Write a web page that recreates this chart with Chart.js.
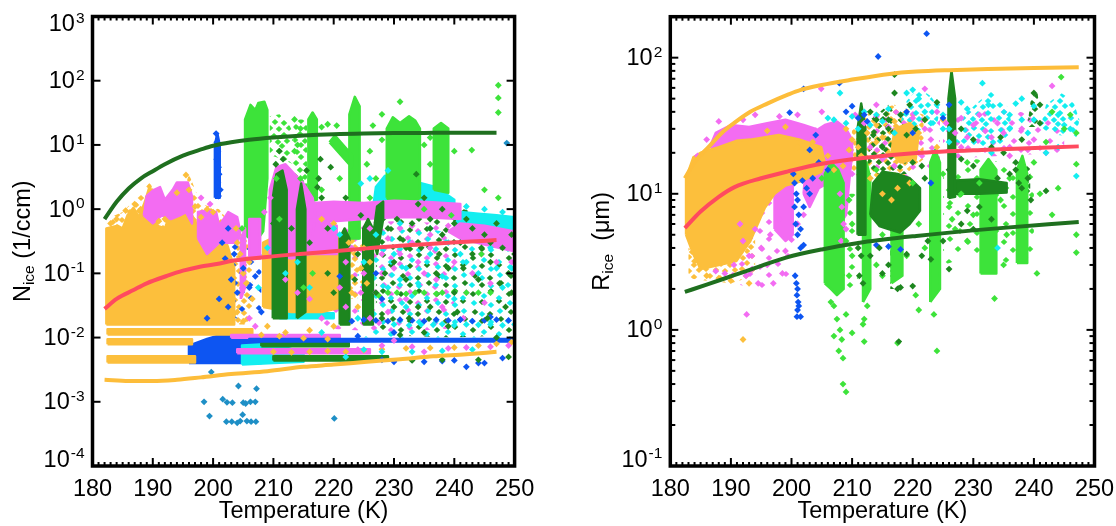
<!DOCTYPE html>
<html><head><meta charset="utf-8">
<script src="https://cdn.jsdelivr.net/npm/chart.js@4/dist/chart.umd.min.js"></script>
<style>
html,body{margin:0;padding:0;background:#fff;}
#wrap{position:relative;width:1116px;height:526px;overflow:hidden;background:#fff;}
#wrap canvas{position:absolute;top:0;}
</style></head><body>
<div id="wrap"><canvas id="cN" width="558" height="526" style="left:0"></canvas><canvas id="cR" width="558" height="526" style="left:558px"></canvas></div>
<script>
// ---------- axis text ----------
const tempTicks = [180,190,200,210,220,230,240,250];
const nExponents = [-4,-3,-2,-1,0,1,2,3];
const rExponents = [-1,0,1,2];
const nAxisTitle = ['N','ice',' (1/ccm)'];
const rAxisTitle = ['R','ice','  (\u03bcm)'];
const xAxisTitle = 'Temperature (K)';

// ---------- LEFT PANEL: N_ice ----------
const nCurveGreenT = [182,184,186,188,190,192,195,198,200,203,206,210,215,220,225,230,235,240,247];
const nCurveGreen  = [0.7,1.3,2.1,3.0,3.9,5.0,6.8,8.5,9.7,11.0,12.0,13.0,14.0,14.7,15.1,15.3,15.4,15.5,15.5];
const nCurveRedT = [182,184,186.8,189,192.3,195,197.8,200.6,203.4,208.9,214.4,220,225.5,231,236.5,242,247];
const nCurveRed  = [0.028,0.04,0.055,0.07,0.091,0.11,0.127,0.14,0.158,0.18,0.2,0.22,0.245,0.27,0.29,0.31,0.33];
const nCurveOrangeT = [182,186,190,194,198,203,209,215,220,225.5,231,236.5,242,247];
const nCurveOrange  = [0.0022,0.0021,0.0021,0.0022,0.0024,0.0027,0.003,0.0035,0.0038,0.0042,0.0046,0.0051,0.0055,0.006];

// scattered regions (drawn speckled)
const nDarkGreenSparse = [
 [[227,0.011],[227,0.8],[233,1.2],[236,1.6],[240,1.1],[245,0.8],[250,0.6],[250,0.011],[240,0.01]]
];
const nPinkSparse = [
 [[218,0.014],[218,0.6],[230,0.65],[240,0.6],[240,0.014],[230,0.012]]
];
const nCyanSparse = [
 [[224,0.01],[224,0.45],[235,0.5],[250,0.3],[250,0.01],[235,0.01]]
];
const nOrangeSparse = [
 [[203.5,0.016],[203.5,0.5],[206.5,0.4],[206.5,0.016]],
 [[221.5,0.04],[221.5,0.45],[224,0.35],[226.5,0.3],[226.5,0.04]],
 [[182.3,0.45],[182.3,0.7],[185,0.9],[187,1.4],[189.5,2.6],[192,1.0],[195,1.8],[196,3.5],[198,1.2],[201,1.0],[203.5,0.5]]
];
const nLightGreenSparse = [
 [[209.4,7],[209.4,28],[211,30],[212.5,22],[213.3,15],[213.3,5],[211.5,6]],
 [[213.3,1],[213.3,25],[215.6,25],[215.6,1]]
];
const nBlueSparse = [
 [[198,0.02],[198,0.2],[203,0.4],[208,0.2],[208,0.02]]
];
// dense regions
const nBlueAreas = [
 [[196,0.0040],[196,0.0075],[199,0.0095],[202,0.0115],[205,0.0115],[207.5,0.0105],[208.5,0.007],[208,0.004]],
 [[200.3,1.5],[200.3,10],[200.7,15],[201.1,10],[201.1,1.5]]
];
const nCyanAreas = [
 [[226.5,1.0],[227,2.2],[228.5,3.3],[231,3.0],[234,2.6],[237,2.2],[240,1.4],[240,0.9],[236,1.1],[232,1.0],[228,0.8]],
 [[240,0.5],[241,0.9],[244,0.85],[247,0.8],[250,0.75],[250,0.3],[247,0.35],[244,0.4],[241,0.35]],
 [[204.8,0.0038],[204.8,0.0075],[210,0.008],[215,0.0058],[215,0.0042],[210,0.004]],
 [[211,0.020],[211,0.024],[220,0.024],[220,0.020]]
];
const nLightGreenAreas = [
 [[205.3,0.4],[205.3,25],[206.2,42],[207,35],[207.5,45],[208.5,47],[209,35],[209,3],[208.3,0.45],[207,0.3]],
 [[215.8,1.3],[215.8,25],[216.5,32],[217.2,25],[217.2,1.4]],
 [[219.3,11],[220.2,14],[223,7],[223,4.5]],
 [[222.6,0.35],[222.6,30],[223.5,56],[224.3,40],[224.3,0.35]],
 [[228.8,1.5],[228.8,18],[229.8,27],[231,22],[232.5,28],[233.5,24],[234.3,18],[234.3,1.5],[231,1.0]],
 [[236.6,2],[236.6,18],[237.8,22],[239,18],[239,1.8]]
];
const nOrangeAreas = [
 [[182.3,0.016],[182.3,0.5],[184.2,0.55],[185,0.5],[185.8,0.8],[186.8,1.05],[187.7,0.75],[188.7,1.3],[189.5,2.3],[190.3,1.2],[190.8,0.55],[192,0.5],[193,0.9],[194.5,1.0],[195.5,1.4],[196.5,0.8],[197.5,0.55],[199,0.7],[200.5,0.75],[201.5,0.45],[202.5,0.25],[203.5,0.12],[203.5,0.016]],
 [[208.3,0.03],[208.3,0.3],[211,0.4],[214,0.35],[217,0.45],[219.5,0.5],[221.5,0.35],[221.5,0.03],[218,0.025],[213,0.025]],
 [[182.5,0.0112],[182.5,0.0135],[206.5,0.0135],[206.5,0.0112]],
 [[182.5,0.0079],[182.5,0.0094],[196.5,0.0094],[196.5,0.0079]],
 [[182.5,0.0041],[182.5,0.0051],[197,0.0051],[197,0.0041]]
];
const nPinkAreas = [
 [[188.5,0.8],[189,1.6],[190.2,2.0],[191.2,2.2],[192,1.4],[193.3,2.0],[194,2.6],[195.8,2.6],[196.5,1.6],[196.5,0.6],[195.5,0.9],[194.5,0.8],[193,0.7],[191.5,0.8],[190,0.6]],
 [[197.5,0.35],[197.5,0.9],[199,0.95],[200.5,0.9],[201,0.55],[202.5,0.9],[204,0.75],[204.5,0.45],[204,0.3],[201,0.3],[199,0.2]],
 [[204.6,0.04],[204.6,0.35],[205.3,0.5],[205.3,0.06]],
 [[206,0.17],[206,0.7],[207.8,0.7],[207.8,0.17]],
 [[209.4,0.2],[209.4,2],[210.5,4.5],[212,5],[213.5,3.5],[215,2.5],[216.5,1.5],[217,0.8],[216,0.2],[213,0.17]],
 [[214.5,0.2],[214.5,0.65],[218,0.65],[220.5,0.55],[220.5,0.2]],
 [[214,0.7],[214,1.2],[220,1.3],[225,1.25],[230,1.35],[235,1.3],[241,1.2],[241,0.7],[235,0.75],[230,0.75],[225,0.7],[220,0.65]],
 [[239,0.45],[241,0.6],[245,0.55],[250,0.45],[250,0.22],[245,0.28],[241,0.35]],
 [[203,0.0099],[203,0.0110],[221,0.0110],[221,0.0099]],
 [[204,0.0057],[204,0.0066],[226,0.0066],[226,0.0057]]
];
const nDarkGreenAreas = [
 [[209.9,0.02],[209.9,1.5],[210.5,3.5],[211.5,4],[212.2,2],[212.2,0.02]],
 [[213.9,0.02],[213.9,1.0],[214.6,2.5],[215.3,1.0],[215.3,0.025]],
 [[221,0.016],[221,0.35],[221.8,0.5],[222.6,0.35],[222.6,0.016]],
 [[224.9,0.016],[224.9,0.5],[225.7,0.7],[226.5,0.5],[226.5,0.016]],
 [[226.5,0.35],[227.2,1.1],[228.2,1.3],[228.2,0.7],[227.2,0.2]],
 [[208,0.0073],[208,0.0082],[222.5,0.0082],[222.5,0.0073]],
 [[210,0.0044],[210,0.0051],[229,0.0051],[229,0.0044]]
];
const nBlueBands = [
 [[206,0.0087],[206,0.0095],[250,0.0095],[250,0.0087]]
];
const nOrangeDots = [[195.5,3.4],[201.5,0.2],[202,0.1],[202.5,0.06],[203,0.04],[204,0.3],[204.5,0.2],[205,0.1],[205.5,0.07],[206,0.15],[206.5,0.04],[204,0.025],[205,0.018],[203.8,0.5],[222.5,0.3],[223.5,0.2],[224.5,0.12],[225,0.25],[225.5,0.07],[226,0.15],[223,0.05],[224,0.03],[218,0.7],[220,0.6],[210,0.006],[213,0.0059],[216,0.006],[219,0.0062],[222,0.006],[225,0.0063],[228,0.0066],[232,0.0068],[236,0.0069],[240,0.007],[244,0.0075],[247,0.008],[249.5,0.0085],[215,0.0098],[219,0.0095],[208,0.011],[211,0.0105],[192,0.7],[194,1.8],[196,2.0],[197,1.1],[199,1.0],[209,0.015],[212,0.012],[216,0.013],[220,0.015],[183,0.6],[184,0.7],[185.5,0.95],[187,1.2],[188,1.0],[191,0.65],[198,0.75],[200,0.9]];
const nPinkDots = [[220,0.3],[222,0.15],[223,0.25],[225,0.1],[227,0.05],[228,0.2],[229,0.35],[230,0.12],[231,0.2],[232,0.04],[233,0.3],[234,0.15],[236,0.25],[237,0.08],[238,0.03],[240,0.15],[241.5,0.02],[243,0.1],[244.5,0.2],[246,0.07],[248,0.3],[249.5,0.15],[230,0.009],[235,0.006],[227.5,0.017],[224,0.0065],[228,0.0075],[233,0.0072],[239,0.0068],[242,0.007],[246,0.0072],[249,0.0075],[198,1.5],[199.5,1.2],[206,0.02],[207,0.015],[208.5,0.9],[209.5,1.5],[212,0.08],[214,0.05],[216,0.04],[231,0.5],[236,0.4],[226,0.02],[222,0.03],[218,0.02],[226,0.5],[233,0.55],[239,0.55],[228,0.1],[235,0.1],[242,0.05],[247,0.15],[224.5,0.05],[221,0.06],[229,0.025],[245,0.035]];
const nCyanDots = [[209,0.25],[207.5,0.06],[212,0.1],[220,0.5],[221,0.4],[225,0.15],[229,0.06],[230,0.2],[232,0.12],[234,0.07],[236,0.2],[238,0.09],[239,0.3],[242,0.15],[244,0.1],[246,0.25],[248,0.06],[249.5,0.12],[224,0.02],[218,0.012],[232,0.03],[240,0.04],[236,0.5],[222,0.005],[225,0.0065],[233,0.006],[238,0.0062],[228,0.006],[243,0.0065],[226,3],[229,4],[224.5,2.5],[242,1.1],[245,1.0],[248,0.9],[250,0.6],[231,0.6],[214,0.15],[216,0.06],[230,0.016],[232.5,0.0155],[234.5,0.016],[236.5,0.0158],[238,0.0162],[240,0.0155],[242,0.016],[244,0.0158],[246,0.016],[248,0.0155],[250,0.016],[231,0.08],[241,0.2],[247,0.12],[227,0.4]];
const nLightGreenDots = [[247.3,85],[247.3,54],[247.3,32],[247.3,1.5],[231,47],[242.9,8.3],[213.5,25],[214.5,18],[214,10],[218,19],[219,21],[220.5,20],[226.5,20],[228,12],[235,10],[240,8],[236,5],[245,2],[226,8],[227,3],[213.5,8],[214.5,3],[244,0.05],[240,0.052],[235,0.05],[232,0.048],[229,0.05],[246,0.05],[238,0.05],[227.5,0.045],[210.5,3],[211,0.7],[218,2],[221,3],[225.5,5],[226,1.5],[235,1.0],[239.5,0.8],[236,13],[228,30],[204.8,0.5],[215,0.06],[216.5,0.1],[230.5,0.05],[233.5,0.05],[237,0.048],[242,0.05],[244.5,0.2]];
const nBlueDots = [[200.5,15],[200.6,11],[200.8,8],[200.6,6],[200.9,4.5],[201,3.5],[200.8,2.6],[201.2,2],[200.9,1.6],[201.5,0.3],[202,0.17],[202.5,0.5],[203,0.08],[204,0.05],[205,0.12],[206,0.06],[207,0.09],[203.5,0.2],[202.5,0.03],[208,0.025],[201,0.04],[199,0.02],[221,0.09],[227,0.1],[228,0.04],[241,0.019],[246,0.021],[242,0.0035],[244,0.004],[230,0.0042],[233,0.0045],[228,0.0045],[235,0.0042],[240,0.0044],[245,0.004],[248,0.0048],[238,0.0043],[224,0.0105],[230,0.012],[223,0.018],[225,0.019],[227,0.0185],[229,0.018],[231,0.019],[233,0.0185],[235,0.018],[237,0.019],[239,0.0185],[241,0.019],[243,0.018],[245,0.0185],[247,0.019],[249,0.0185]];
const nDarkGreenDots = [[229,0.5],[230,0.15],[231,0.35],[232,0.08],[233,0.6],[234,1.2],[235,1.5],[236,0.7],[234.5,0.25],[237,0.1],[238,0.4],[239,0.12],[240,0.05],[241,0.3],[242,0.7],[243,0.2],[244,0.08],[245,0.4],[246,0.15],[247,0.6],[248,0.25],[249,0.1],[249.5,0.05],[248.5,0.03],[245.5,0.02],[240.5,0.025],[236,0.03],[232.5,0.02],[230,0.03],[231,0.011],[235,0.012],[239,0.015],[244,0.0045],[238,0.0045],[233,0.0044],[249,0.005],[216,0.3],[219,0.5],[220,0.05],[224,0.2],[215.5,4],[217.5,3],[217.8,6],[218,1.5],[217.3,2.2],[219.5,4.5],[222,1.5],[224.5,0.8],[233.7,3.5],[247,0.01],[211,8],[211.6,6],[210.4,5],[228,0.02],[228.5,0.1],[210,0.6],[213,0.5],[219,0.1],[223.5,0.08],[227,0.05],[234,0.03],[236,0.5],[238,1.0],[240,0.6],[243,0.5],[246,0.3],[249.5,0.4],[230.5,0.7],[232,0.25],[237.5,0.2],[241.5,0.12],[244.5,0.25],[247.5,0.07],[250,0.2]];
const nSteelDots = [[198.5,0.001],[199.4,0.0006],[201.6,0.0011],[202.3,0.00098],[203.2,0.00097],[204.2,0.00176],[205,0.00097],[205.4,0.00094],[206.2,0.001],[207.2,0.0016],[207,0.001],[202.2,0.00049],[203.1,0.00049],[204,0.00047],[204.5,0.0005],[204.9,0.00063],[205.6,0.0005],[206.3,0.00049],[207.1,0.00049],[220.1,0.00055],[248.7,10.7],[199.7,0.0029]];

// ---------- RIGHT PANEL: R_ice ----------
const rCurveOrangeT = [182.4,184,186.5,188.5,190.5,193.2,196,199.4,201.4,205,209.6,216.2,220.6,226,232.4,240,247.4];
const rCurveOrange  = [13,17,22.5,28,33,40,46,53.5,57.8,63,68.5,76,79,81,82.6,84,85];
const rCurveRedT = [182.4,185,188,190.6,195,199.4,205,211.8,220.6,232.4,247.4];
const rCurveRed  = [5.6,7.4,9.5,11.2,13,14.6,16.6,18.3,19.9,21.1,22.3];
const rCurveGreenT = [182.4,186,190.3,195,199.1,205,211.8,220.6,232.4,247.4];
const rCurveGreen  = [1.9,2.15,2.5,2.95,3.4,3.9,4.4,4.9,5.5,6.2];

const rOrangeSparse = [
 [[209.6,14],[210,30],[213,40],[217,45],[221.8,38],[221.8,18],[218,13],[213,13]],
 [[183,2.4],[183,4],[187,3.2],[192,3.6],[194,5],[194,2.5],[190,2.2],[186,2.3]]
];
const rPinkSparse = [
 [[213.5,14],[213.5,35],[218,43],[224.5,38],[224.5,15],[219,13]],
 [[225,18],[225,38],[235,42],[245,35],[245,20],[235,19]],
 [[190,2.2],[190,5],[194,8],[197,9],[200,6],[200,2.5],[195,2]]
];
const rCyanSparse = [
 [[217.9,32],[219,48],[221,60],[223,52],[224.5,42],[224,32],[221,29]],
 [[227,24],[228.5,38],[231,48],[233,57],[235.5,45],[236.6,30],[235,23],[231,22]],
 [[241,30],[242,45],[244.5,55],[246.5,48],[247.5,35],[247,26],[244,27]]
];
const rLightGreenSparse = [
 [[225,3],[225,15],[230,18],[236,17],[240,15],[240,3.5],[235,3],[230,3.5]],
 [[208.6,2],[208.6,10],[211,10],[211,2]]
];
const rDarkGreenSparse = [
 [[237.2,10],[237.2,16],[239.4,16],[239.4,10]],
 [[238.9,31],[239.5,50],[240.5,60],[241,40],[241,31]],
 [[216.3,2],[216.3,5.5],[217.9,5.5],[217.9,2]],
 [[212.5,14],[213,35],[216,45],[219,30],[219,14]]
];
const rPinkAreas = [
 [[186.5,22],[187.5,28],[190,32],[193,31],[196,33],[199,35],[202,32],[204,30],[204,24],[200,26],[196,27],[193,24.5],[190,24],[188,21]],
 [[202,10],[202.5,20],[203.5,28],[205.5,32],[207.5,34],[209,30],[210,25],[210,20],[209.5,12],[209,7],[208,6],[207.5,9],[206,12],[204.5,11],[203,8]],
 [[197.2,5.5],[197.2,18],[200.2,20],[200.2,5],[199,4.5]]
];
const rOrangeAreas = [
 [[182.6,5],[182.6,13],[183.8,18.5],[185,20],[188,22],[190.9,24.5],[193.2,25],[197.9,27],[201.4,25],[204.9,22],[205.5,17],[204.9,14.5],[201.4,12.3],[199,11.5],[197.2,10],[195.6,7.9],[193.2,4.5],[190.9,3.2],[188,3.0],[185,2.8],[183.8,3.6]],
 [[216.5,20],[217,30],[219.5,33],[221,28],[220.5,18],[218,17]]
];
const rLightGreenAreas = [
 [[205.5,2.2],[205.5,14],[206.5,17],[207.7,15],[208.6,12],[208.6,2],[207.5,1.8],[206.5,2]],
 [[211.8,1.6],[211.8,14],[212.4,17],[213,13],[213,2]],
 [[216.5,2.2],[216.5,8],[217.5,9],[218.3,7],[218.3,2.5]],
 [[222.9,1.6],[222.9,17],[223.7,21],[224.5,17],[224.5,2]],
 [[231.2,2.6],[231.2,15],[232.5,18],[233.8,15],[233.8,2.6]],
 [[237.2,3.1],[237.2,15],[238.1,19],[238.9,14],[238.9,3.1]]
];
const rDarkGreenAreas = [
 [[213,7],[213.5,12],[215,14.5],[217.5,14],[219.5,13],[221.2,11],[221.2,7.5],[219.5,6],[217.9,5.2],[216,5.5],[214.5,5.8]],
 [[210.9,5],[210.9,30],[211.5,46],[212.2,30],[212.2,5]],
 [[225.9,9.3],[225.9,50],[226.4,80],[227,50],[227,9.5]],
 [[227,10],[227,12.5],[231,12.8],[235.5,12],[235.5,10.2],[231,10]]
];
const rOrangeDots = [[209,30],[210,25],[211,22],[212.5,28],[214,32],[215,26],[216,20],[217,34],[218,24],[219,30],[220,22],[221,28],[222,35],[218.5,19],[216.5,9],[217.5,11],[219.5,12],[224,22],[225,35],[213,13],[215,10],[192,0.85],[188,2.4],[190,2.3],[186,2.5],[184,3.2],[193,2.2],[203,16],[205,16.5],[207,15],[206,19],[208.5,16],[209.5,21],[202,14],[201,22],[199,31],[196,29],[203.5,24],[211.5,19],[214,24]];
const rPinkDots = [[191.5,6],[192,4.5],[193,3.5],[193.5,2.8],[194.5,2.2],[192.5,2.5],[196,3],[197,2.2],[195,4],[196.5,5],[198,6.5],[194,5.5],[199,3.8],[200,4.6],[201,6],[202,7],[198.5,2.6],[192.6,1.3],[189,2.6],[190.5,3],[187.5,2.7],[210.5,38],[212,33],[214,37],[216,31],[218,38],[220,36],[222,30],[222,59],[224,40],[225.5,33],[227,28],[228,36],[229,26],[230,32],[231,38],[232,29],[233,26],[234,33],[235,28],[236,22],[238,30],[240,25],[243,62],[214,45],[204.9,59],[208,10],[208.3,8],[208.6,6],[208.2,4.5],[209,5.5],[210,14],[209.5,17],[213,22],[215,18],[217,16],[221,20],[223,25],[228,22],[236,19],[239,21],[242,20],[186,25],[184.5,19],[188,34],[192,35],[194,38],[198,37],[201,38],[205,40]];
const rBlueDots = [[200.3,14],[200.5,12],[200.8,10],[201,9],[200.5,8],[201.2,7],[200.7,6],[201,5],[201.5,5.5],[202,8],[202.5,11],[203,10],[203.5,13],[201.8,12.5],[200.6,2.5],[200.8,2.2],[201,2],[200.9,1.8],[201.1,1.6],[201.2,1.5],[201,1.4],[200.9,1.25],[201.5,1.25],[201.5,4],[202,4.2],[214.3,102],[222.3,150],[199.7,39.5],[207.9,65],[202,59],[204,27],[203,21],[204.5,17],[206,15],[211,36],[212,38],[219,40],[220,28],[216,4.1],[218,3.9],[214,4.2],[225,36],[226,45],[223,12],[209,40],[210,44],[212.5,34]];
const rCyanDots = [[210,37],[212,40],[214,38],[216,42],[218,38],[219,55],[220,58],[221,50],[222,40],[223,33],[224,45],[225,30],[217,28],[213,32],[209,33],[208,55],[206,36],[231.5,65],[232.5,45],[236,30],[237,46],[238,35],[239,28],[236,38],[229,42],[226,24],[225,38],[244,22],[247,13.5],[242,20],[245,32],[240,35],[233,20],[234,4],[207,35],[211,30],[215,34],[238,50],[240,44],[226,30],[228,47],[244,38],[246,30]];
const rLightGreenDots = [[207,1.5],[207.5,1.2],[208,1.0],[208.3,0.85],[207.8,0.7],[208.5,0.62],[209,0.35],[208.5,0.4],[207,0.9],[206.5,1.6],[209,1.3],[210,0.95],[214,15],[215,5],[219,3.5],[220,12],[221,6],[222,4],[225,14],[226,8],[227,5.5],[228,10],[229,17],[230,7],[231,12],[234.5,9],[235.5,5],[236,13],[240,17],[241,10],[243,7],[244,11],[245,30],[246,38],[247,28],[247,5],[247,3.7],[247,16.5],[235,3],[233.5,1.7],[229,4.5],[226.5,6.5],[220.5,1.8],[221,1.4],[224,0.7],[223.5,1.3],[212,1.2],[212,0.82],[211.8,1.1],[212.5,1.5],[217.5,0.8],[238.5,3.4],[240.5,2.6],[243,40],[244.5,72],[242,24],[205,13],[209.5,9],[210,6],[214,3],[215,2.5],[209.5,2.5],[210,3.5],[209,4.5]];
const rDarkGreenDots = [[213,40],[214,35],[215,22],[216,30],[217,75],[218,38],[219,27],[220,2.1],[217.5,2.0],[218,2.05],[215,2.6],[213,3.5],[214.5,4],[216,3],[219,3.6],[221.5,3.5],[222.5,4.5],[223,3.3],[225,4.5],[226,2.8],[228,6],[229,7.5],[230,5.5],[231,8],[233,6.5],[234,13],[236,14],[237,15],[237.5,12],[238,11],[239,13],[239.5,9],[240,55],[241,45],[242,10.5],[237,17],[235,20],[233,22],[230,25],[228,30],[226,15],[222,35],[220.5,30],[219.5,45],[224,47],[217,55],[216,35],[213.5,27],[217.7,0.82],[238,25],[234.5,26],[241,33],[228,18],[230,16],[211,4],[211.5,3.5],[211.2,2.5],[211.8,2.2],[221.5,16],[222,13],[220,17]];

// ---------- styles ----------
const COL = {orange:'#fcbf3c', pink:'#f36cf2', blue:'#0d55f2', lgreen:'#3de33a', dgreen:'#1d861f', cyan:'#13eef0', steel:'#1e8fc6', red:'#ff4a5f', curveGreen:'#1f6f1f', curveOrange:'#fdbd3a'};
const FONT = '"Liberation Sans", Arial, Helvetica, sans-serif';
const SPECKLE_TILE = 36;
const SPECKLE_SPOTS = {
  low:[[5,6],[23,3],[14,14],[31,13],[7,24],[22,26],[33,31],[14,33]],
  mid:[[5,6],[14,4],[23,5],[31,7],[9,11],[19,12],[28,13],[4,17],[14,18],[23,19],[33,18],[8,24],[18,26],[28,25],[3,30],[13,31],[22,32],[31,31],[9,35],[26,36]]
};

// diamond-speckle fill used for scattered regions
function speckle(ctxTarget, color, density, dx, dy){
  const T=SPECKLE_TILE, c=document.createElement('canvas'); c.width=T; c.height=T;
  const g=c.getContext('2d'); g.fillStyle=color;
  SPECKLE_SPOTS[density].forEach(([px,py])=>{
    const x0=(px+dx)%T, y0=(py+dy)%T;
    [[0,0],[-T,0],[0,-T],[-T,-T],[T,0],[0,T],[T,T],[T,-T],[-T,T]].forEach(([ox,oy])=>{
      const x=x0+ox, y=y0+oy;
      g.beginPath(); g.moveTo(x,y-3); g.lineTo(x+3.3,y); g.lineTo(x,y+3); g.lineTo(x-3.3,y); g.closePath(); g.fill();
    });
  });
  return ctxTarget.createPattern(c,'repeat');
}

function polyPoints(list){
  const out=[];
  list.forEach(p=>{ p.forEach(([x,y])=>out.push({x,y})); out.push({x:p[0][0],y:p[0][1]}); out.push({x:p[0][0],y:null}); });
  return out;
}
function areaDS(list,color){
  return {type:'line', data:polyPoints(list), fill:'shape', backgroundColor:color, borderColor:color, borderWidth:2.5, borderJoinStyle:'round', pointRadius:0, pointHoverRadius:0, spanGaps:false, tension:0};
}
function speckleDS(list,pattern){
  return {type:'line', data:polyPoints(list), fill:'shape', backgroundColor:pattern, borderColor:'rgba(0,0,0,0)', borderWidth:0, pointRadius:0, pointHoverRadius:0, spanGaps:false, tension:0};
}
function dotDS(list,color){
  return {type:'scatter', data:list.map(([x,y])=>({x,y})), backgroundColor:color, pointBackgroundColor:color, borderWidth:0, pointBorderWidth:0, pointStyle:'rectRot', pointRadius:3.4, pointHoverRadius:3.4};
}
function curveDS(ts,vs,color){
  return {type:'line', data:ts.map((t,i)=>({x:t,y:vs[i]})), borderColor:color, backgroundColor:color, borderWidth:4, pointRadius:0, fill:false, cubicInterpolationMode:'monotone', borderCapStyle:'butt'};
}

const framePlugin = {
  id:'frame',
  afterDraw(chart, args, o){
    const ctx=chart.ctx, a=chart.chartArea, xs=chart.scales.x, ys=chart.scales.y;
    ctx.save();
    ctx.strokeStyle='#000'; ctx.fillStyle='#000';
    const seg=(x1,y1,x2,y2)=>{ctx.beginPath();ctx.moveTo(x1,y1);ctx.lineTo(x2,y2);ctx.stroke();};
    ctx.lineWidth=2;
    for(let i=0;i<tempTicks.length;i++){
      const v=tempTicks[i], px=xs.getPixelForValue(v);
      seg(px,a.bottom,px,a.bottom-8); seg(px,a.top,px,a.top+8);
      if(i<tempTicks.length-1){
        const step=(tempTicks[i+1]-v)/10;
        for(let k=1;k<10;k++){const mx=xs.getPixelForValue(v+k*step); seg(mx,a.bottom,mx,a.bottom-4); seg(mx,a.top,mx,a.top+4);}
      }
    }
    o.exponents.forEach(e=>{
      const py=ys.getPixelForValue(Math.pow(10,e));
      seg(a.left,py,a.left+8,py); seg(a.right,py,a.right-8,py);
      if(o.minor){
        for(let m=2;m<10;m++){const v=m*Math.pow(10,e); if(v>ys.max) break; const q=ys.getPixelForValue(v); seg(a.left,q,a.left+5,q); seg(a.right,q,a.right-5,q);}
      }
    });
    ctx.lineWidth=3.5;
    ctx.strokeRect(a.left,a.top,a.right-a.left,a.bottom-a.top);
    ctx.font='23.5px '+FONT; ctx.textAlign='center'; ctx.textBaseline='alphabetic';
    tempTicks.forEach(v=>ctx.fillText(String(v), xs.getPixelForValue(v), a.bottom+29.5));
    ctx.fillText(xAxisTitle,(a.left+a.right)/2,a.bottom+52);
    ctx.textAlign='left';
    o.exponents.forEach(e=>{
      const py=ys.getPixelForValue(Math.pow(10,e));
      const b=Math.min(Math.max(py+7.5,a.top+14.5),a.bottom+0.5);
      const ex=String(e);
      ctx.font='15.5px '+FONT; const we=ctx.measureText(ex).width;
      ctx.font='23.5px '+FONT; const wb=ctx.measureText('10').width;
      const right=a.left-8;
      ctx.fillText('10', right-we-wb-1, b);
      ctx.font='15.5px '+FONT; ctx.fillText(ex, right-we, b-8.5);
    });
    const parts=[[o.title[0],23.5,0],[o.title[1],15.5,4],[o.title[2],23.5,0]];
    let tot=0; parts.forEach(p=>{ctx.font=p[1]+'px '+FONT; p.push(ctx.measureText(p[0]).width); tot+=p[3];});
    ctx.save(); ctx.translate(o.titleX,(a.top+a.bottom)/2); ctx.rotate(-Math.PI/2);
    let x=-tot/2;
    parts.forEach(p=>{ctx.font=p[1]+'px '+FONT; ctx.fillText(p[0],x,p[2]); x+=p[3];});
    ctx.restore();
    ctx.restore();
  }
};

function makeChart(id, datasetsBottomToTop, yMin, yMax, pad, frameOpts){
  new Chart(document.getElementById(id), {
    type:'scatter',
    data:{datasets: datasetsBottomToTop.slice().reverse()},
    options:{
      responsive:false, animation:false, events:[],
      layout:{padding:pad},
      plugins:{legend:{display:false}, tooltip:{enabled:false}, frame:frameOpts},
      scales:{
        x:{type:'linear', min:180, max:250, ticks:{display:false, stepSize:10}, grid:{display:false}, border:{display:false}, afterFit:s=>{s.height=0;}},
        y:{type:'logarithmic', min:yMin, max:yMax, ticks:{display:false}, grid:{display:false}, border:{display:false}, afterFit:s=>{s.width=0;}}
      }
    },
    plugins:[framePlugin]
  });
}

const ctxN = document.getElementById('cN').getContext('2d');
const ctxR = document.getElementById('cR').getContext('2d');

makeChart('cN', [
  speckleDS(nDarkGreenSparse, speckle(ctxN,COL.dgreen,'low',0,0)),
  speckleDS(nPinkSparse, speckle(ctxN,COL.pink,'low',17,9)),
  speckleDS(nCyanSparse, speckle(ctxN,COL.cyan,'low',9,20)),
  speckleDS(nOrangeSparse, speckle(ctxN,COL.orange,'mid',0,0)),
  speckleDS(nLightGreenSparse, speckle(ctxN,COL.lgreen,'mid',4,2)),
  speckleDS(nBlueSparse, speckle(ctxN,COL.blue,'low',12,7)),
  areaDS(nBlueAreas,COL.blue),
  areaDS(nCyanAreas,COL.cyan),
  areaDS(nLightGreenAreas,COL.lgreen),
  areaDS(nOrangeAreas,COL.orange),
  areaDS(nPinkAreas,COL.pink),
  areaDS(nDarkGreenAreas,COL.dgreen),
  areaDS(nBlueBands,COL.blue),
  dotDS(nOrangeDots,COL.orange),
  dotDS(nPinkDots,COL.pink),
  dotDS(nCyanDots,COL.cyan),
  dotDS(nLightGreenDots,COL.lgreen),
  dotDS(nBlueDots,COL.blue),
  dotDS(nDarkGreenDots,COL.dgreen),
  dotDS(nSteelDots,COL.steel),
  curveDS(nCurveOrangeT,nCurveOrange,COL.curveOrange),
  curveDS(nCurveRedT,nCurveRed,COL.red),
  curveDS(nCurveGreenT,nCurveGreen,COL.curveGreen)
], 1e-4, 1e3, {left:92.5, right:43.4, top:16.5, bottom:60},
  {exponents:nExponents, minor:false, title:nAxisTitle, titleX:29.5});

makeChart('cR', [
  speckleDS(rOrangeSparse, speckle(ctxR,COL.orange,'mid',0,0)),
  speckleDS(rPinkSparse, speckle(ctxR,COL.pink,'low',17,9)),
  speckleDS(rCyanSparse, speckle(ctxR,COL.cyan,'mid',6,16)),
  speckleDS(rLightGreenSparse, speckle(ctxR,COL.lgreen,'low',9,20)),
  speckleDS(rDarkGreenSparse, speckle(ctxR,COL.dgreen,'mid',14,6)),
  areaDS(rPinkAreas,COL.pink),
  areaDS(rOrangeAreas,COL.orange),
  areaDS(rLightGreenAreas,COL.lgreen),
  areaDS(rDarkGreenAreas,COL.dgreen),
  dotDS(rOrangeDots,COL.orange),
  dotDS(rPinkDots,COL.pink),
  dotDS(rCyanDots,COL.cyan),
  dotDS(rBlueDots,COL.blue),
  dotDS(rLightGreenDots,COL.lgreen),
  dotDS(rDarkGreenDots,COL.dgreen),
  curveDS(rCurveOrangeT,rCurveOrange,COL.curveOrange),
  curveDS(rCurveRedT,rCurveRed,COL.red),
  curveDS(rCurveGreenT,rCurveGreen,COL.curveGreen)
], 0.1, 200, {left:112.3, right:21.5, top:16.7, bottom:60},
  {exponents:rExponents, minor:true, title:rAxisTitle, titleX:51});
</script></body></html>
